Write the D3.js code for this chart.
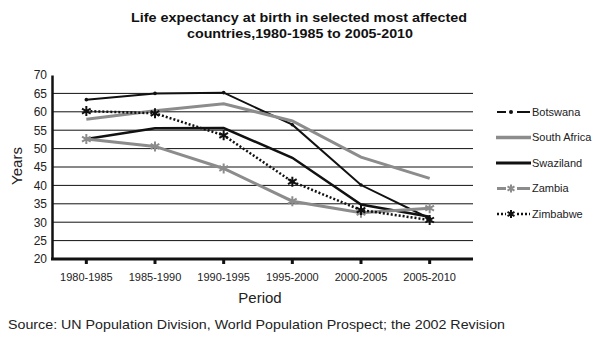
<!DOCTYPE html>
<html>
<head>
<meta charset="utf-8">
<script src="https://cdn.jsdelivr.net/npm/d3@7"></script>
<style>
  body { margin: 0; background: #fff; }
  svg { font-family: Arial, "Liberation Sans", sans-serif; }
</style>
</head>
<body>
<script>
'use strict';

// periods on the x axis
const periods = ["1980-1985", "1985-1990", "1990-1995", "1995-2000", "2000-2005", "2005-2010"];

// life expectancy per country, one value per period
const botswana = [63.3, 65.0, 65.2, 56.5, 40.1, 31.0];
const southAfrica = [58.0, 60.3, 62.2, 57.5, 47.7, 41.9];
const swaziland = [52.6, 55.5, 55.6, 47.5, 34.8, 31.5];
const zambia = [52.6, 50.6, 44.6, 35.7, 32.6, 33.8];
const zimbabwe = [60.2, 59.6, 53.6, 41.0, 33.3, 30.6];

const yTicks = [20, 25, 30, 35, 40, 45, 50, 55, 60, 65, 70];

const series = [
    { name: "Botswana", values: botswana, color: "#111", width: 2, dash: null, marker: "dot" },
    { name: "South Africa", values: southAfrica, color: "#8c8c8c", width: 3, dash: null, marker: null },
    { name: "Swaziland", values: swaziland, color: "#111", width: 2.5, dash: null, marker: null },
    { name: "Zambia", values: zambia, color: "#8c8c8c", width: 3, dash: null, marker: "star" },
    { name: "Zimbabwe", values: zimbabwe, color: "#111", width: 2.5, dash: "2,2", marker: "star" }
];

const svg = d3.select("body").append("svg")
    .attr("width", 616)
    .attr("height", 347);

const x = d3.scaleBand().domain(periods).range([52, 464]);
const y = d3.scaleLinear().domain([20, 70]).range([259, 75]);
const xc = (p) => x(p) + x.bandwidth() / 2;

// title (stretched to the box width)
svg.append("text")
    .attr("x", 131).attr("y", 22)
    .attr("textLength", 336).attr("lengthAdjust", "spacingAndGlyphs")
    .style("font-size", "13px").style("font-weight", "bold").attr("fill", "#111")
    .text("Life expectancy at birth in selected most affected");
svg.append("text")
    .attr("x", 187).attr("y", 38)
    .attr("textLength", 226).attr("lengthAdjust", "spacingAndGlyphs")
    .style("font-size", "13px").style("font-weight", "bold").attr("fill", "#111")
    .text("countries,1980-1985 to 2005-2010");

// horizontal gridlines
svg.append("g")
    .selectAll("line")
    .data(yTicks.filter((t) => t > 20 && t < 70))
    .enter()
    .append("line")
    .attr("x1", 52).attr("x2", 473)
    .attr("y1", (d) => y(d)).attr("y2", (d) => y(d))
    .attr("stroke", "#111").attr("stroke-width", 1);

// y axis
const yAxis = svg.append("g")
    .attr("transform", "translate(52,0)")
    .call(d3.axisLeft(y).tickValues(yTicks).tickSize(0).tickPadding(5));
yAxis.select(".domain").attr("stroke", "#111").attr("stroke-width", 2.5);
yAxis.selectAll("text").style("font-size", "12px").attr("fill", "#222");

// x axis
const xAxis = svg.append("g")
    .attr("transform", "translate(0,259)")
    .call(d3.axisBottom(x).tickSize(0).tickPadding(14));
xAxis.select(".domain").remove();
xAxis.selectAll("text").style("font-size", "11px").attr("fill", "#222");
xAxis.append("line")
    .attr("x1", 51).attr("x2", 473)
    .attr("stroke", "#111").attr("stroke-width", 3);
xAxis.selectAll(".tickmark")
    .data(periods)
    .enter()
    .append("line")
    .attr("x1", xc).attr("x2", xc)
    .attr("y1", 0).attr("y2", 5)
    .attr("stroke", "#111").attr("stroke-width", 3);

// axis titles
svg.append("text")
    .attr("transform", "translate(22,166)rotate(-90)")
    .attr("text-anchor", "middle")
    .style("font-size", "15px").attr("fill", "#222")
    .text("Years");
svg.append("text")
    .attr("x", 260).attr("y", 303)
    .attr("text-anchor", "middle")
    .style("font-size", "15px").attr("fill", "#222")
    .text("Period");
svg.append("text")
    .attr("x", 8).attr("y", 329)
    .attr("textLength", 497).attr("lengthAdjust", "spacingAndGlyphs")
    .style("font-size", "13.5px").attr("fill", "#222")
    .text("Source: UN Population Division, World Population Prospect; the 2002 Revision");

const line = d3.line()
    .x((d, i) => xc(periods[i]))
    .y((d) => y(d));

function drawMarker(g, s, px, py, small) {
    if (s.marker === "dot") {
        g.append("circle")
            .attr("cx", px).attr("cy", py).attr("r", small ? 2 : 1.8)
            .attr("fill", s.color);
    } else if (s.marker === "star") {
        g.append("path")
            .attr("d", d3.symbol().type(d3.symbolAsterisk).size(small ? 45 : 70)())
            .attr("transform", `translate(${px},${py})`)
            .attr("fill", "none")
            .attr("stroke", s.color).attr("stroke-width", 2);
    }
}

// series lines and markers
series.forEach((s) => {
    const g = svg.append("g");
    g.append("path")
        .datum(s.values)
        .attr("d", line)
        .attr("fill", "none")
        .attr("stroke", s.color)
        .attr("stroke-width", s.width)
        .attr("stroke-dasharray", s.dash);
    s.values.forEach((v, i) => drawMarker(g, s, xc(periods[i]), y(v), false));
});

// legend
const legend = svg.append("g");
series.forEach((s, i) => {
    const ly = 112 + i * 25.5;
    const g = legend.append("g");
    if (s.marker) {
        g.append("line")
            .attr("x1", 497).attr("x2", 506).attr("y1", ly).attr("y2", ly)
            .attr("stroke", s.color).attr("stroke-width", s.width)
            .attr("stroke-dasharray", s.dash);
        g.append("line")
            .attr("x1", 517).attr("x2", 530).attr("y1", ly).attr("y2", ly)
            .attr("stroke", s.color).attr("stroke-width", s.width)
            .attr("stroke-dasharray", s.dash);
        drawMarker(g, s, 511, ly, true);
    } else {
        g.append("line")
            .attr("x1", 496).attr("x2", 531).attr("y1", ly).attr("y2", ly)
            .attr("stroke", s.color).attr("stroke-width", s.width + 0.5);
    }
    g.append("text")
        .attr("x", 532).attr("y", ly)
        .attr("dy", "0.35em")
        .style("font-size", "11px").attr("fill", "#222")
        .text(s.name);
});
</script>
</body>
</html>
